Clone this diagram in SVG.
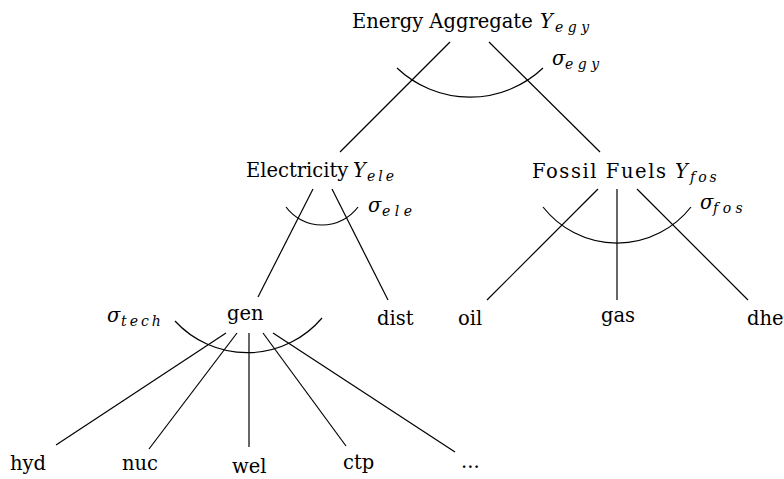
<svg xmlns="http://www.w3.org/2000/svg" width="784" height="479" viewBox="0 0 784 479">
<style>
  text { font-family: "DejaVu Serif", "Liberation Serif", serif; font-size: 19.5px; fill: #000; }
  .m { font-style: italic; }
  .s { font-style: italic; font-size: 14px; letter-spacing: 4.5px; }
  .e { fill: none; stroke: #000; stroke-width: 1.2; }
</style>
<rect width="784" height="479" fill="#fff"/>
<g id="connectors">
  <line class="e" x1="450" y1="42" x2="340" y2="152"/>
  <line class="e" x1="489" y1="42" x2="600" y2="152"/>
  <line class="e" x1="313" y1="189" x2="258" y2="297"/>
  <line class="e" x1="332" y1="189" x2="388" y2="300"/>
  <line class="e" x1="598" y1="189" x2="487" y2="300"/>
  <line class="e" x1="617" y1="189" x2="617" y2="300"/>
  <line class="e" x1="637" y1="189" x2="748" y2="300"/>
  <line class="e" x1="226" y1="333" x2="56" y2="445"/>
  <line class="e" x1="237" y1="333" x2="149" y2="449"/>
  <line class="e" x1="249" y1="333" x2="249" y2="447"/>
  <line class="e" x1="263" y1="333" x2="346" y2="446"/>
  <line class="e" x1="273" y1="333" x2="455" y2="452"/>
  <path class="e" d="M397,68 A106,106 0 0 0 543,68"/>
  <path class="e" d="M286,207 A45,45 0 0 0 358,207"/>
  <path class="e" d="M543,207 A94,94 0 0 0 691,207"/>
  <path class="e" d="M175,321 A98,98 0 0 0 322,318"/>
</g>
<g id="sigmas">
  <text class="m" x="552" y="65">σ</text><text class="s" x="565" y="69">egy</text>
  <text class="m" x="368" y="212">σ</text><text class="s" x="382" y="216">ele</text>
  <text class="m" x="700" y="209">σ</text><text class="s" x="713" y="213">fos</text>
  <text class="m" x="107" y="322">σ</text><text class="s" x="121" y="326" style="letter-spacing:3px">tech</text>
</g>
<g id="egy">
  <text x="352" y="28">Energy Aggregate</text>
  <text class="m" x="540" y="28">Y</text><text class="s" x="555" y="32">egy</text>
</g>
<g id="ele">
  <text x="246" y="177">Electricity</text>
  <text class="m" x="353" y="177">Y</text><text class="s" x="367" y="181" style="letter-spacing:3px">ele</text>
</g>
<g id="fos">
  <text x="532" y="178" textLength="134" lengthAdjust="spacing">Fossil Fuels</text>
  <text class="m" x="675" y="178">Y</text><text class="s" x="690" y="182" style="letter-spacing:3px">fos</text>
</g>
<g id="gen"><text x="227" y="320">gen</text></g>
<g id="dist"><text x="377" y="325">dist</text></g>
<g id="oil"><text x="458" y="325">oil</text></g>
<g id="gas"><text x="601" y="322">gas</text></g>
<g id="dhe"><text x="747" y="325">dhe</text></g>
<g id="hyd"><text x="10" y="470">hyd</text></g>
<g id="nuc"><text x="122" y="470">nuc</text></g>
<g id="wel"><text x="232" y="473">wel</text></g>
<g id="ctp"><text x="343" y="469">ctp</text></g>
<g id="more"><text x="461" y="468">...</text></g>
</svg>
